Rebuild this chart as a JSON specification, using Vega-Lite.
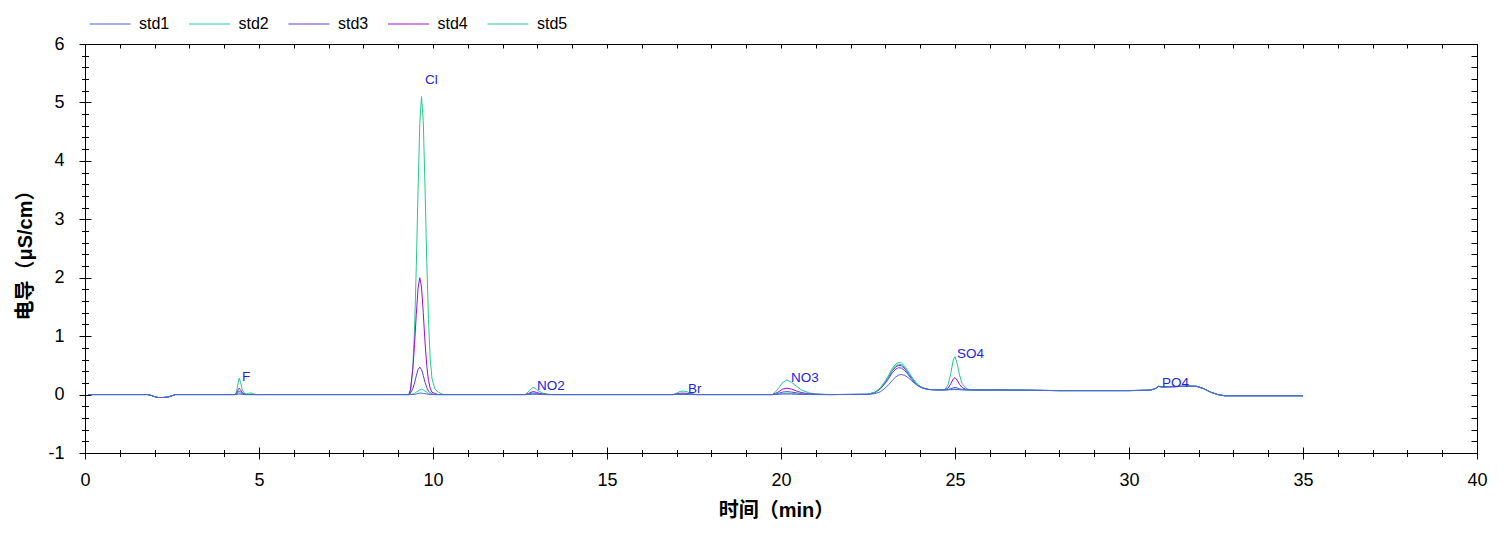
{
  "$schema": "https://vega.github.io/schema/vega-lite/v6.json",
  "width": 1392,
  "height": 409,
  "autosize": {"type": "none"},
  "padding": {"left": 85, "top": 44, "right": 28, "bottom": 86},
  "background": "white",
  "config": {
    "view": {"stroke": "black", "strokeWidth": 1},
    "axis": {"grid": false, "tickColor": "black", "domainColor": "black", "labelColor": "black", "titleColor": "black", "labelFont": "Liberation Sans", "labelFontSize": 18, "tickWidth": 1, "domainWidth": 1, "labelFlush": false, "labelOverlap": false},
    "legend": {"labelFont": "Liberation Sans", "labelFontSize": 16, "labelColor": "black"}
  },
  "datasets": {
    "chrom": [
      {"t":0.1,"std1":0,"std2":0,"std3":0,"std4":0,"std5":0},
      {"t":1.8,"std1":0,"std2":0,"std3":0,"std4":0,"std5":0},
      {"t":1.9,"std1":-0.015,"std2":-0.015,"std3":-0.015,"std4":-0.015,"std5":-0.015},
      {"t":2.0,"std1":-0.035,"std2":-0.035,"std3":-0.035,"std4":-0.035,"std5":-0.035},
      {"t":2.1,"std1":-0.05,"std2":-0.05,"std3":-0.05,"std4":-0.05,"std5":-0.05},
      {"t":2.25,"std1":-0.05,"std2":-0.05,"std3":-0.05,"std4":-0.05,"std5":-0.05},
      {"t":2.4,"std1":-0.04,"std2":-0.04,"std3":-0.04,"std4":-0.04,"std5":-0.04},
      {"t":2.5,"std1":-0.02,"std2":-0.02,"std3":-0.02,"std4":-0.02,"std5":-0.02},
      {"t":2.6,"std1":0,"std2":0,"std3":0,"std4":0,"std5":0},
      {"t":4.3,"std1":0,"std2":0,"std3":0,"std4":0,"std5":0},
      {"t":4.35,"std1":0,"std2":0.005,"std3":0.01,"std4":0.02,"std5":0.04},
      {"t":4.4,"std1":0.007,"std2":0.02,"std3":0.04,"std4":0.08,"std5":0.2},
      {"t":4.43,"std1":0.01,"std2":0.03,"std3":0.06,"std4":0.11,"std5":0.28},
      {"t":4.47,"std1":0.008,"std2":0.02,"std3":0.045,"std4":0.08,"std5":0.21},
      {"t":4.52,"std1":0.003,"std2":0.01,"std3":0.02,"std4":0.03,"std5":0.08},
      {"t":4.57,"std1":0,"std2":0,"std3":0.01,"std4":0.01,"std5":0.03},
      {"t":4.63,"std1":0,"std2":0,"std3":0,"std4":0,"std5":0.01},
      {"t":4.7,"std1":0,"std2":0.005,"std3":0,"std4":0,"std5":0.02},
      {"t":4.76,"std1":0,"std2":0.01,"std3":0,"std4":0,"std5":0.03},
      {"t":4.85,"std1":0,"std2":0,"std3":0,"std4":0,"std5":0.01},
      {"t":4.95,"std1":0,"std2":0,"std3":0,"std4":0,"std5":0},
      {"t":9.3,"std1":0,"std2":0,"std3":0,"std4":0,"std5":0},
      {"t":9.35,"std1":0,"std2":0,"std3":0.02,"std4":0.08,"std5":0},
      {"t":9.42,"std1":0,"std2":0.01,"std3":0.1,"std4":0.44,"std5":0.46},
      {"t":9.47,"std1":0,"std2":0.02,"std3":0.2,"std4":0.86,"std5":1.12},
      {"t":9.52,"std1":0.01,"std2":0.04,"std3":0.32,"std4":1.37,"std5":2.19},
      {"t":9.57,"std1":0.02,"std2":0.06,"std3":0.43,"std4":1.82,"std5":3.49},
      {"t":9.62,"std1":0.025,"std2":0.08,"std3":0.47,"std4":2.0,"std5":4.64},
      {"t":9.67,"std1":0.025,"std2":0.09,"std3":0.43,"std4":1.84,"std5":5.1},
      {"t":9.72,"std1":0.02,"std2":0.08,"std3":0.33,"std4":1.4,"std5":4.69},
      {"t":9.77,"std1":0.015,"std2":0.06,"std3":0.21,"std4":0.9,"std5":3.57},
      {"t":9.82,"std1":0.01,"std2":0.04,"std3":0.12,"std4":0.5,"std5":2.3},
      {"t":9.87,"std1":0.005,"std2":0.02,"std3":0.06,"std4":0.24,"std5":1.28},
      {"t":9.92,"std1":0,"std2":0.01,"std3":0.03,"std4":0.11,"std5":0.61},
      {"t":9.97,"std1":0,"std2":0.005,"std3":0.01,"std4":0.04,"std5":0.28},
      {"t":10.05,"std1":0,"std2":0,"std3":0,"std4":0.02,"std5":0.1},
      {"t":10.15,"std1":0,"std2":0,"std3":0,"std4":0,"std5":0.04},
      {"t":10.3,"std1":0,"std2":0,"std3":0,"std4":0,"std5":0},
      {"t":12.65,"std1":0,"std2":0,"std3":0,"std4":0,"std5":0},
      {"t":12.75,"std1":0.002,"std2":0.005,"std3":0.01,"std4":0.02,"std5":0.05},
      {"t":12.85,"std1":0.005,"std2":0.011,"std3":0.024,"std4":0.048,"std5":0.115},
      {"t":12.9,"std1":0.005,"std2":0.012,"std3":0.025,"std4":0.05,"std5":0.12},
      {"t":12.97,"std1":0.004,"std2":0.009,"std3":0.019,"std4":0.038,"std5":0.09},
      {"t":13.05,"std1":0.002,"std2":0.005,"std3":0.011,"std4":0.023,"std5":0.055},
      {"t":13.15,"std1":0,"std2":0.002,"std3":0.005,"std4":0.01,"std5":0.025},
      {"t":13.3,"std1":0,"std2":0,"std3":0,"std4":0.003,"std5":0.006},
      {"t":13.45,"std1":0,"std2":0,"std3":0,"std4":0,"std5":0},
      {"t":16.9,"std1":0,"std2":0,"std3":0,"std4":0,"std5":0},
      {"t":17.0,"std1":0.001,"std2":0.002,"std3":0.005,"std4":0.01,"std5":0.024},
      {"t":17.1,"std1":0.002,"std2":0.005,"std3":0.011,"std4":0.022,"std5":0.054},
      {"t":17.2,"std1":0.002,"std2":0.006,"std3":0.012,"std4":0.025,"std5":0.06},
      {"t":17.3,"std1":0.002,"std2":0.005,"std3":0.01,"std4":0.02,"std5":0.048},
      {"t":17.4,"std1":0.001,"std2":0.002,"std3":0.004,"std4":0.009,"std5":0.021},
      {"t":17.5,"std1":0,"std2":0,"std3":0.001,"std4":0.003,"std5":0.006},
      {"t":17.6,"std1":0,"std2":0,"std3":0,"std4":0,"std5":0},
      {"t":19.75,"std1":0,"std2":0,"std3":0,"std4":0,"std5":0},
      {"t":19.85,"std1":0.002,"std2":0.004,"std3":0.01,"std4":0.022,"std5":0.05},
      {"t":19.95,"std1":0.005,"std2":0.011,"std3":0.025,"std4":0.055,"std5":0.125},
      {"t":20.05,"std1":0.008,"std2":0.019,"std3":0.043,"std4":0.094,"std5":0.21},
      {"t":20.17,"std1":0.01,"std2":0.022,"std3":0.05,"std4":0.11,"std5":0.25},
      {"t":20.3,"std1":0.008,"std2":0.019,"std3":0.043,"std4":0.094,"std5":0.21},
      {"t":20.45,"std1":0.005,"std2":0.012,"std3":0.028,"std4":0.06,"std5":0.14},
      {"t":20.6,"std1":0.003,"std2":0.007,"std3":0.015,"std4":0.033,"std5":0.075},
      {"t":20.8,"std1":0.001,"std2":0.003,"std3":0.006,"std4":0.013,"std5":0.03},
      {"t":21.0,"std1":0,"std2":0.001,"std3":0.003,"std4":0.006,"std5":0.012},
      {"t":21.3,"std1":0,"std2":0,"std3":0,"std4":0.001,"std5":0.003},
      {"t":21.45,"std1":0,"std2":0,"std3":0,"std4":0,"std5":0},
      {"t":22.5,"std1":0.002,"std2":0.005,"std3":0.004,"std4":0.005,"std5":0.005},
      {"t":22.7,"std1":0.016,"std2":0.039,"std3":0.034,"std4":0.037,"std5":0.041},
      {"t":22.85,"std1":0.046,"std2":0.106,"std3":0.093,"std4":0.1,"std5":0.113},
      {"t":23.0,"std1":0.112,"std2":0.222,"std3":0.195,"std4":0.213,"std5":0.235},
      {"t":23.1,"std1":0.174,"std2":0.318,"std3":0.28,"std4":0.306,"std5":0.338},
      {"t":23.2,"std1":0.244,"std2":0.425,"std3":0.374,"std4":0.408,"std5":0.45},
      {"t":23.3,"std1":0.303,"std2":0.495,"std3":0.437,"std4":0.476,"std5":0.524},
      {"t":23.38,"std1":0.334,"std2":0.52,"std3":0.46,"std4":0.5,"std5":0.55},
      {"t":23.46,"std1":0.343,"std2":0.511,"std3":0.453,"std4":0.492,"std5":0.54},
      {"t":23.56,"std1":0.328,"std2":0.457,"std3":0.407,"std4":0.441,"std5":0.483},
      {"t":23.66,"std1":0.287,"std2":0.376,"std3":0.337,"std4":0.363,"std5":0.396},
      {"t":23.76,"std1":0.234,"std2":0.287,"std3":0.26,"std4":0.278,"std5":0.3},
      {"t":23.86,"std1":0.182,"std2":0.21,"std3":0.193,"std4":0.204,"std5":0.218},
      {"t":23.96,"std1":0.141,"std2":0.153,"std3":0.143,"std4":0.15,"std5":0.157},
      {"t":24.08,"std1":0.109,"std2":0.112,"std3":0.108,"std4":0.11,"std5":0.114},
      {"t":24.25,"std1":0.087,"std2":0.087,"std3":0.086,"std4":0.087,"std5":0.088},
      {"t":24.5,"std1":0.08,"std2":0.08,"std3":0.08,"std4":0.08,"std5":0.08},
      {"t":24.7,"std1":0.08,"std2":0.08,"std3":0.08,"std4":0.08,"std5":0.08},
      {"t":24.8,"std1":0.081,"std2":0.082,"std3":0.086,"std4":0.112,"std5":0.166},
      {"t":24.88,"std1":0.083,"std2":0.088,"std3":0.1,"std4":0.185,"std5":0.365},
      {"t":24.95,"std1":0.085,"std2":0.094,"std3":0.116,"std4":0.269,"std5":0.593},
      {"t":25.0,"std1":0.086,"std2":0.095,"std3":0.12,"std4":0.29,"std5":0.65},
      {"t":25.06,"std1":0.085,"std2":0.092,"std3":0.112,"std4":0.248,"std5":0.536},
      {"t":25.13,"std1":0.083,"std2":0.087,"std3":0.098,"std4":0.175,"std5":0.337},
      {"t":25.2,"std1":0.081,"std2":0.083,"std3":0.088,"std4":0.122,"std5":0.194},
      {"t":25.3,"std1":0.08,"std2":0.081,"std3":0.082,"std4":0.093,"std5":0.114},
      {"t":25.4,"std1":0.08,"std2":0.08,"std3":0.08,"std4":0.082,"std5":0.086},
      {"t":25.5,"std1":0.08,"std2":0.08,"std3":0.08,"std4":0.08,"std5":0.08},
      {"t":27.0,"std1":0.075,"std2":0.075,"std3":0.075,"std4":0.075,"std5":0.075},
      {"t":28.0,"std1":0.066,"std2":0.068,"std3":0.068,"std4":0.068,"std5":0.068},
      {"t":30.0,"std1":0.066,"std2":0.068,"std3":0.068,"std4":0.068,"std5":0.07},
      {"t":30.6,"std1":0.074,"std2":0.075,"std3":0.075,"std4":0.075,"std5":0.076},
      {"t":30.75,"std1":0.1,"std2":0.1,"std3":0.1,"std4":0.1,"std5":0.1},
      {"t":30.85,"std1":0.14,"std2":0.14,"std3":0.14,"std4":0.14,"std5":0.145},
      {"t":30.95,"std1":0.13,"std2":0.13,"std3":0.13,"std4":0.13,"std5":0.135},
      {"t":31.3,"std1":0.135,"std2":0.135,"std3":0.135,"std4":0.135,"std5":0.138},
      {"t":31.7,"std1":0.145,"std2":0.145,"std3":0.145,"std4":0.145,"std5":0.148},
      {"t":31.95,"std1":0.14,"std2":0.14,"std3":0.14,"std4":0.14,"std5":0.142},
      {"t":32.15,"std1":0.1,"std2":0.1,"std3":0.1,"std4":0.1,"std5":0.1},
      {"t":32.35,"std1":0.04,"std2":0.04,"std3":0.04,"std4":0.04,"std5":0.04},
      {"t":32.55,"std1":0,"std2":0,"std3":0,"std4":0,"std5":0},
      {"t":32.75,"std1":-0.02,"std2":-0.02,"std3":-0.02,"std4":-0.02,"std5":-0.02},
      {"t":35.0,"std1":-0.02,"std2":-0.02,"std3":-0.02,"std4":-0.02,"std5":-0.02}
    ],
    "labels": [
      {"t":4.51,"v":0.3,"label":"F"},
      {"t":9.77,"v":5.385,"label":"Cl"},
      {"t":12.99,"v":0.146,"label":"NO2"},
      {"t":17.33,"v":0.094,"label":"Br"},
      {"t":20.29,"v":0.283,"label":"NO3"},
      {"t":25.06,"v":0.693,"label":"SO4"},
      {"t":30.95,"v":0.197,"label":"PO4"}
    ]
  },
  "layer": [
    {
      "data": {"name": "chrom"},
      "transform": [{"fold": ["std5", "std4", "std3", "std2", "std1"], "as": ["s", "v"]}],
      "mark": {"type": "line", "strokeWidth": 1, "interpolate": "linear"},
      "encoding": {
        "x": {"field": "t", "type": "quantitative", "scale": {"domain": [0, 40], "nice": false, "zero": false},
          "axis": {"orient": "bottom", "values": [0,5,10,15,20,25,30,35,40], "tickSize": 6, "labelPadding": 12, "labelAngle": 0,
            "title": "时间（min）", "titleFont": "Liberation Sans, Noto Sans CJK SC", "titleFontSize": 20, "titleFontWeight": "bold",
            "titleBaseline": "middle", "titleAlign": "center", "titleX": 691, "titleY": 57}},
        "y": {"field": "v", "type": "quantitative", "scale": {"domain": [-1, 6], "nice": false, "zero": false},
          "axis": {"orient": "left", "values": [-1,0,1,2,3,4,5,6], "tickSize": 6, "labelPadding": 15,
            "labelExpr": "replace(datum.label, '\u2212', '-')",
            "title": "电导（μS/cm）", "titleFont": "Liberation Sans, Noto Sans CJK SC", "titleFontSize": 20, "titleFontWeight": "bold",
            "titleBaseline": "middle", "titleAlign": "center", "titleAngle": 270, "titleX": -60, "titleY": 206}},
        "color": {"field": "s", "type": "nominal",
          "scale": {"domain": ["std1", "std2", "std3", "std4", "std5"], "range": ["#4F63D2", "#20D0A8", "#5A3CE6", "#9B0ED6", "#22CC8C"]},
          "legend": {"orient": "none", "legendX": 4, "legendY": -41, "direction": "horizontal", "columns": 5, "title": null,
            "symbolType": "stroke", "symbolSize": 1681, "symbolStrokeWidth": 1, "labelOffset": 8, "columnPadding": 16.5, "padding": 0}}
      }
    },
    {
      "data": {"name": "labels"},
      "mark": {"type": "point", "opacity": 0},
      "encoding": {
        "x": {"field": "t", "type": "quantitative", "scale": {"domain": [0, 40], "nice": false, "zero": false},
          "axis": {"orient": "bottom", "values": [0,5,10,15,20,25,30,35,40], "tickSize": -6, "labels": false, "domain": false, "title": null}},
        "y": {"field": "v", "type": "quantitative", "scale": {"domain": [-1, 6], "nice": false, "zero": false},
          "axis": {"orient": "left", "values": [-1,0,1,2,3,4,5,6], "tickSize": -6, "labels": false, "domain": false, "title": null}}
      }
    },
    {
      "data": {"name": "labels"},
      "mark": {"type": "point", "opacity": 0},
      "encoding": {
        "x": {"field": "t", "type": "quantitative", "scale": {"domain": [0, 40], "nice": false, "zero": false},
          "axis": {"orient": "bottom", "values": [0,1,2,3,4,5,6,7,8,9,10,11,12,13,14,15,16,17,18,19,20,21,22,23,24,25,26,27,28,29,30,31,32,33,34,35,36,37,38,39,40], "tickSize": 3.5, "labels": false, "domain": false, "title": null}},
        "y": {"field": "v", "type": "quantitative", "scale": {"domain": [-1, 6], "nice": false, "zero": false},
          "axis": {"orient": "left", "values": [-1,-0.8,-0.6,-0.4,-0.2,0,0.2,0.4,0.6,0.8,1,1.2,1.4,1.6,1.8,2,2.2,2.4,2.6,2.8,3,3.2,3.4,3.6,3.8,4,4.2,4.4,4.6,4.8,5,5.2,5.4,5.6,5.8,6], "tickSize": 3.5, "labels": false, "domain": false, "title": null}}
      }
    },
    {
      "data": {"name": "labels"},
      "mark": {"type": "point", "opacity": 0},
      "encoding": {
        "x": {"field": "t", "type": "quantitative", "scale": {"domain": [0, 40], "nice": false, "zero": false},
          "axis": {"orient": "bottom", "values": [0,1,2,3,4,5,6,7,8,9,10,11,12,13,14,15,16,17,18,19,20,21,22,23,24,25,26,27,28,29,30,31,32,33,34,35,36,37,38,39,40], "tickSize": -3.5, "labels": false, "domain": false, "title": null}},
        "y": {"field": "v", "type": "quantitative", "scale": {"domain": [-1, 6], "nice": false, "zero": false},
          "axis": {"orient": "left", "values": [-1,-0.8,-0.6,-0.4,-0.2,0,0.2,0.4,0.6,0.8,1,1.2,1.4,1.6,1.8,2,2.2,2.4,2.6,2.8,3,3.2,3.4,3.6,3.8,4,4.2,4.4,4.6,4.8,5,5.2,5.4,5.6,5.8,6], "tickSize": -3.5, "labels": false, "domain": false, "title": null}}
      }
    },
    {
      "data": {"name": "labels"},
      "mark": {"type": "point", "opacity": 0},
      "encoding": {
        "x": {"field": "t", "type": "quantitative", "scale": {"domain": [0, 40], "nice": false, "zero": false},
          "axis": {"orient": "top", "values": [0,1,2,3,4,5,6,7,8,9,10,11,12,13,14,15,16,17,18,19,20,21,22,23,24,25,26,27,28,29,30,31,32,33,34,35,36,37,38,39,40], "tickSize": -4, "labels": false, "domain": false, "title": null}},
        "y": {"field": "v", "type": "quantitative", "scale": {"domain": [-1, 6], "nice": false, "zero": false},
          "axis": {"orient": "right", "values": [-1,-0.8,-0.6,-0.4,-0.2,0,0.2,0.4,0.6,0.8,1,1.2,1.4,1.6,1.8,2,2.2,2.4,2.6,2.8,3,3.2,3.4,3.6,3.8,4,4.2,4.4,4.6,4.8,5,5.2,5.4,5.6,5.8,6], "tickSize": -6, "labels": false, "domain": false, "title": null}}
      }
    },
    {
      "data": {"name": "labels"},
      "mark": {"type": "text", "align": "left", "baseline": "middle", "font": "Liberation Sans", "fontSize": 13.5, "color": "#2424E0"},
      "encoding": {
        "x": {"field": "t", "type": "quantitative", "scale": {"domain": [0, 40], "nice": false, "zero": false}, "axis": null},
        "y": {"field": "v", "type": "quantitative", "scale": {"domain": [-1, 6], "nice": false, "zero": false}, "axis": null},
        "text": {"field": "label"}
      }
    }
  ],
  "resolve": {"axis": {"x": "independent", "y": "independent"}}
}
